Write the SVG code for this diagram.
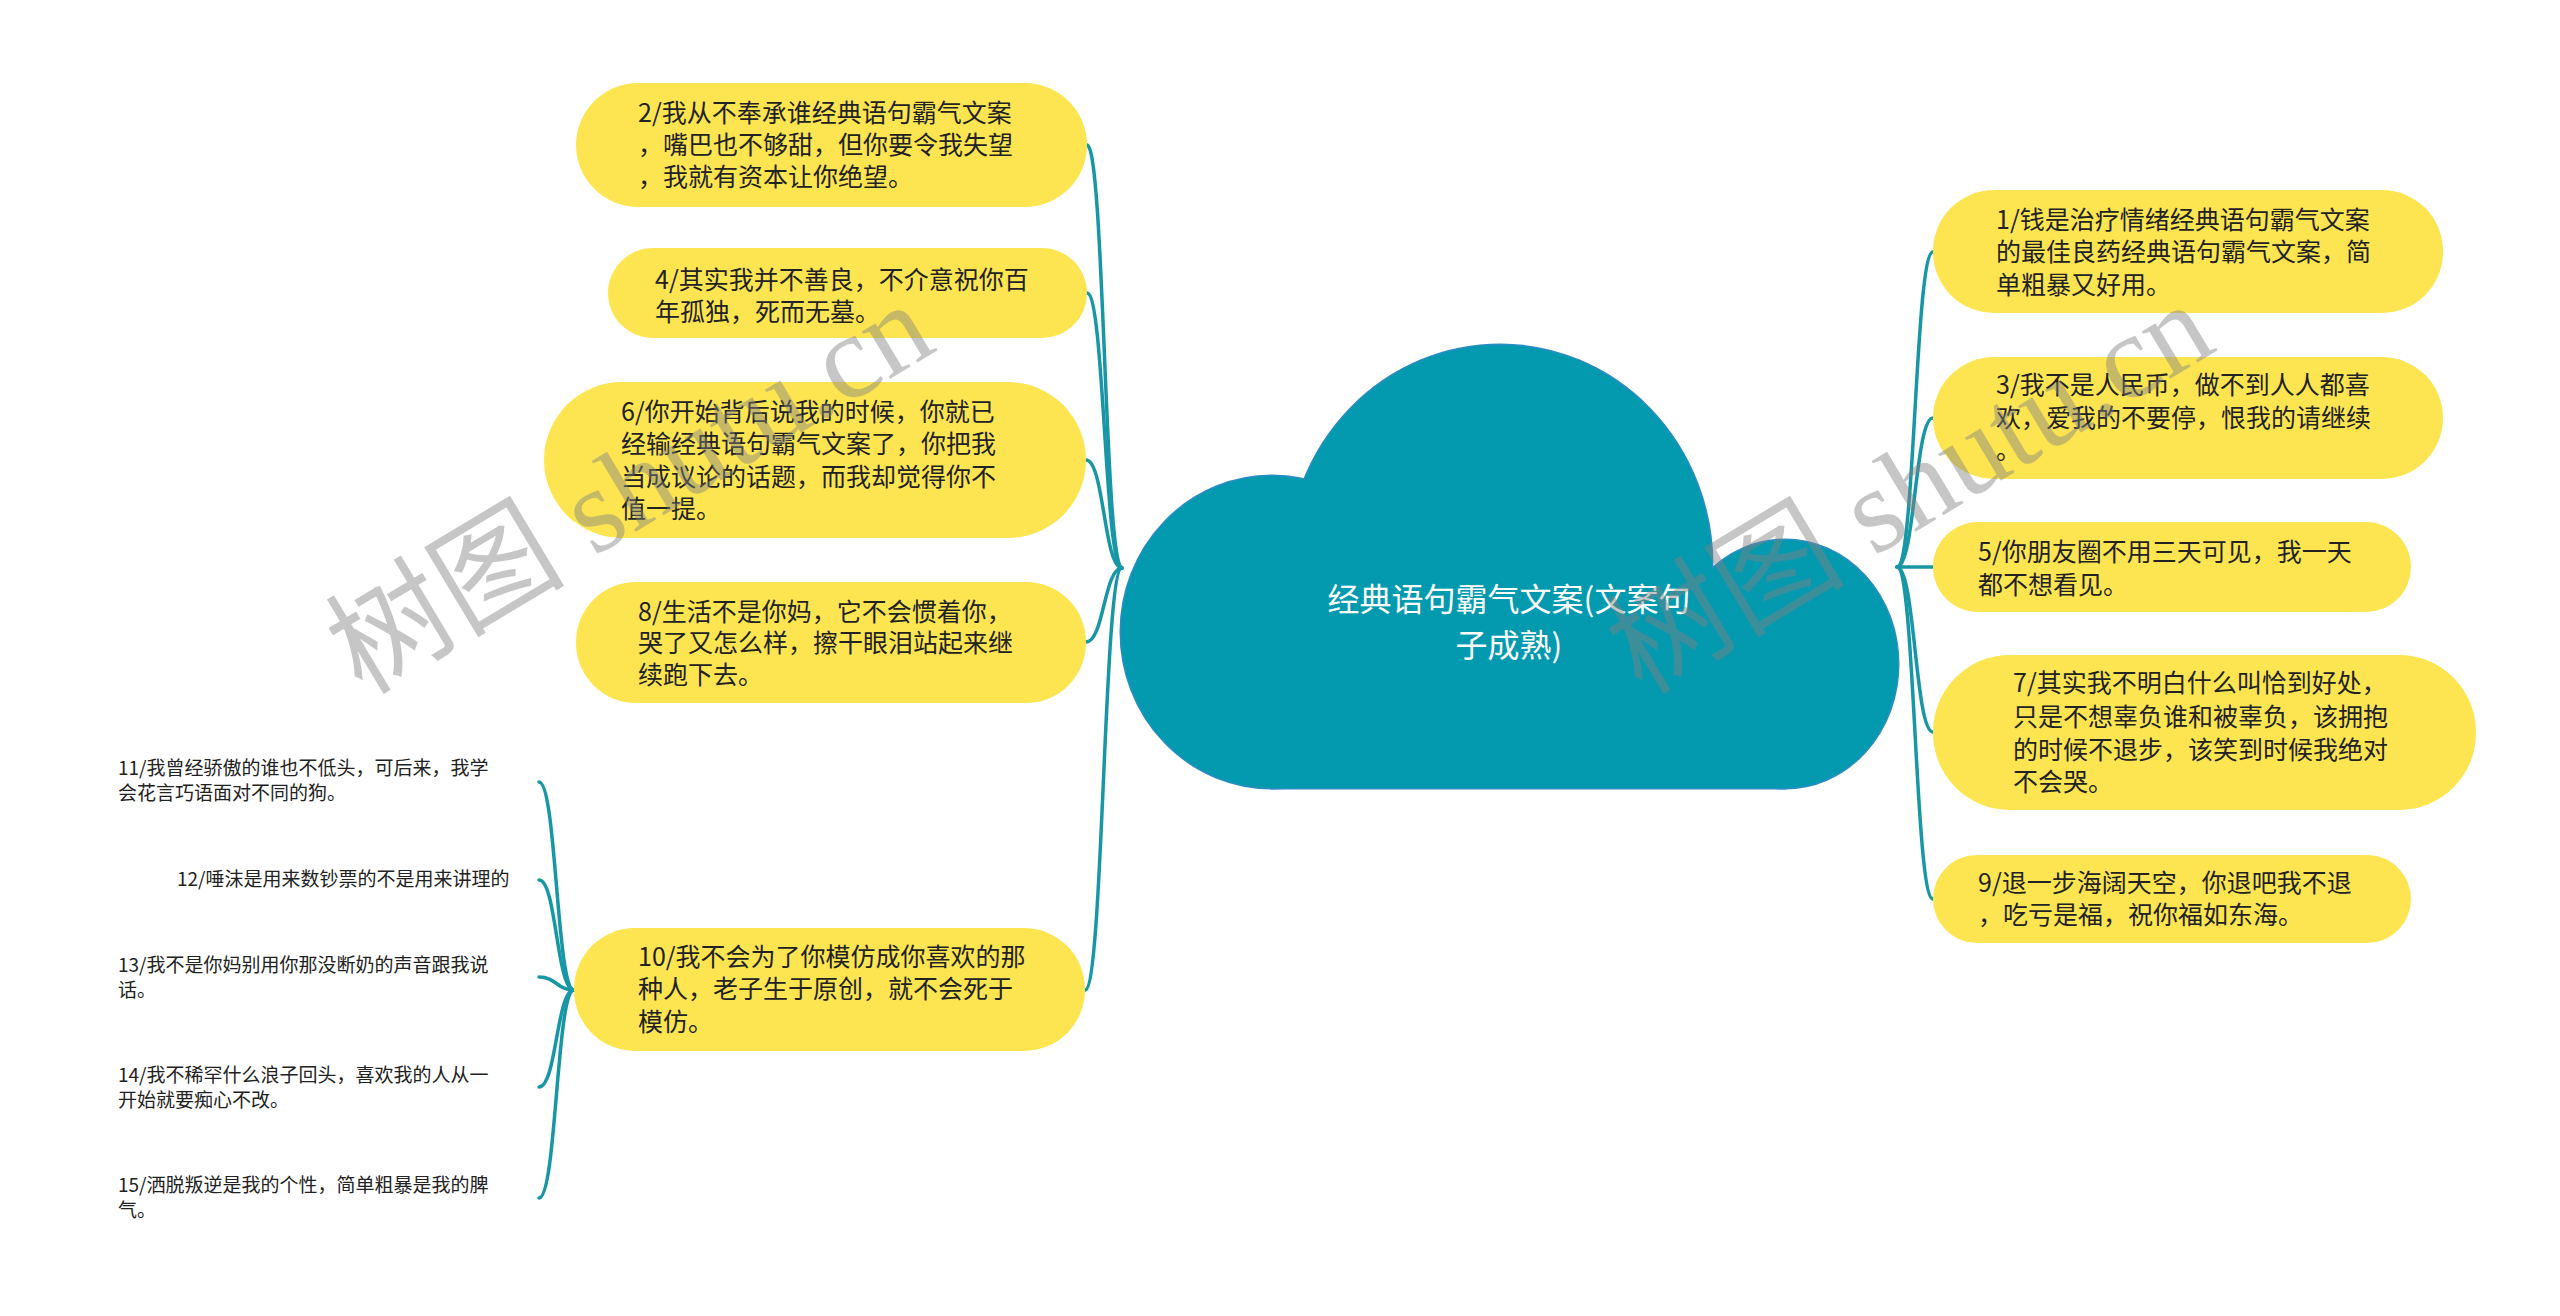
<svg xmlns="http://www.w3.org/2000/svg" width="2560" height="1316" viewBox="0 0 2560 1316">
<style>
.bub{fill:#fde552;}
.t{font-family:"Noto Sans CJK SC","Liberation Sans",sans-serif;font-size:25px;fill:#222;}
.s{font-family:"Noto Sans CJK SC","Liberation Sans",sans-serif;font-size:19px;fill:#222;}
.title{font-family:"Noto Sans CJK SC","Liberation Sans",sans-serif;font-size:32px;fill:#ffffff;text-anchor:middle;}
.c{fill:none;stroke:#1797a6;stroke-width:3.5;stroke-linecap:round;}
.cloudS{fill:#2b8cc4;stroke:#2b8cc4;stroke-width:3;}
.cloudF{fill:#039aaf;}
.wm{font-family:"Liberation Serif","Noto Sans CJK SC",serif;font-size:120px;fill:#808080;fill-opacity:0.45;}
</style>
<rect width="2560" height="1316" fill="#ffffff"/>

<g id="connectors">
<path class="c" d="M1087,145 C1104.5,145 1104.5,568 1122,568"/>
<path class="c" d="M1087,293 C1104.5,293 1104.5,568 1122,568"/>
<path class="c" d="M1086,460 C1104,460 1104,568 1122,568"/>
<path class="c" d="M1086,642 C1104,642 1104,568 1122,568"/>
<path class="c" d="M1085,990 C1103.5,990 1103.5,568 1122,568"/>
<path class="c" d="M1897,567 C1915,567 1915,252 1933,252"/>
<path class="c" d="M1897,567 C1915,567 1915,418 1933,418"/>
<path class="c" d="M1897,567 L1933,567"/>
<path class="c" d="M1897,567 C1915,567 1915,732 1933,732"/>
<path class="c" d="M1897,567 C1915,567 1915,899 1933,899"/>
<path class="c" d="M539,782 C556.5,782 556.5,990 574,990"/>
<path class="c" d="M539,880 C556.5,880 556.5,990 574,990"/>
<path class="c" d="M539,977 C556.5,977 556.5,990 574,990"/>
<path class="c" d="M539,1087 C556.5,1087 556.5,990 574,990"/>
<path class="c" d="M539,1198 C556.5,1198 556.5,990 574,990"/>
</g>

<g id="root">
<ellipse class="cloudS" cx="1272" cy="632" rx="151" ry="156"/>
<ellipse class="cloudS" cx="1500" cy="565" rx="212" ry="220"/>
<ellipse class="cloudS" cx="1785" cy="664" rx="113" ry="124"/>
<rect class="cloudS" x="1272" y="620" width="513" height="168"/>
<ellipse class="cloudF" cx="1272" cy="632" rx="151" ry="156"/>
<ellipse class="cloudF" cx="1500" cy="565" rx="212" ry="220"/>
<ellipse class="cloudF" cx="1785" cy="664" rx="113" ry="124"/>
<rect class="cloudF" x="1272" y="620" width="513" height="168"/>
<text class="title" x="1509" y="611">经典语句霸气文案(文案句</text>
<text class="title" x="1509" y="657">子成熟)</text>
</g>

<g id="n2">
<rect class="bub" x="576" y="83" width="511" height="124" rx="62"/>
<text class="t" x="638" y="122">2/我从不奉承谁经典语句霸气文案</text>
<text class="t" x="638" y="154">，嘴巴也不够甜，但你要令我失望</text>
<text class="t" x="638" y="186">，我就有资本让你绝望。</text>
</g>
<g id="n4">
<rect class="bub" x="608" y="248" width="479" height="90" rx="45"/>
<text class="t" x="655" y="289">4/其实我并不善良，不介意祝你百</text>
<text class="t" x="655" y="321">年孤独，死而无墓。</text>
</g>
<g id="n6">
<rect class="bub" x="544" y="382" width="542" height="156" rx="78"/>
<text class="t" x="621" y="421">6/你开始背后说我的时候，你就已</text>
<text class="t" x="621" y="453">经输经典语句霸气文案了，你把我</text>
<text class="t" x="621" y="486">当成议论的话题，而我却觉得你不</text>
<text class="t" x="621" y="518">值一提。</text>
</g>
<g id="n8">
<rect class="bub" x="576" y="582" width="510" height="121" rx="60"/>
<text class="t" x="638" y="621">8/生活不是你妈，它不会惯着你，</text>
<text class="t" x="638" y="652">哭了又怎么样，擦干眼泪站起来继</text>
<text class="t" x="638" y="684">续跑下去。</text>
</g>
<g id="n10">
<rect class="bub" x="574" y="928" width="511" height="123" rx="61"/>
<text class="t" x="638" y="966">10/我不会为了你模仿成你喜欢的那</text>
<text class="t" x="638" y="998">种人，老子生于原创，就不会死于</text>
<text class="t" x="638" y="1031">模仿。</text>
</g>
<g id="n1">
<rect class="bub" x="1933" y="190" width="510" height="123" rx="61"/>
<text class="t" x="1996" y="229">1/钱是治疗情绪经典语句霸气文案</text>
<text class="t" x="1996" y="261">的最佳良药经典语句霸气文案，简</text>
<text class="t" x="1996" y="294">单粗暴又好用。</text>
</g>
<g id="n3">
<rect class="bub" x="1933" y="357" width="510" height="122" rx="61"/>
<text class="t" x="1996" y="394">3/我不是人民币，做不到人人都喜</text>
<text class="t" x="1996" y="427">欢，爱我的不要停，恨我的请继续</text>
<text class="t" x="1996" y="459">。</text>
</g>
<g id="n5">
<rect class="bub" x="1933" y="522" width="478" height="90" rx="45"/>
<text class="t" x="1978" y="561">5/你朋友圈不用三天可见，我一天</text>
<text class="t" x="1978" y="594">都不想看见。</text>
</g>
<g id="n7">
<rect class="bub" x="1933" y="655" width="543" height="155" rx="77"/>
<text class="t" x="2013" y="692">7/其实我不明白什么叫恰到好处，</text>
<text class="t" x="2013" y="726">只是不想辜负谁和被辜负，该拥抱</text>
<text class="t" x="2013" y="759">的时候不退步，该笑到时候我绝对</text>
<text class="t" x="2013" y="791">不会哭。</text>
</g>
<g id="n9">
<rect class="bub" x="1933" y="855" width="478" height="88" rx="44"/>
<text class="t" x="1978" y="892">9/退一步海阔天空，你退吧我不退</text>
<text class="t" x="1978" y="924">，吃亏是福，祝你福如东海。</text>
</g>

<g id="n11">
<text class="s" x="118" y="775">11/我曾经骄傲的谁也不低头，可后来，我学</text>
<text class="s" x="118" y="800">会花言巧语面对不同的狗。</text>
</g>
<g id="n12">
<text class="s" x="177" y="886">12/唾沫是用来数钞票的不是用来讲理的</text>
</g>
<g id="n13">
<text class="s" x="118" y="972">13/我不是你妈别用你那没断奶的声音跟我说</text>
<text class="s" x="118" y="997">话。</text>
</g>
<g id="n14">
<text class="s" x="118" y="1082">14/我不稀罕什么浪子回头，喜欢我的人从一</text>
<text class="s" x="118" y="1107">开始就要痴心不改。</text>
</g>
<g id="n15">
<text class="s" x="118" y="1192">15/洒脱叛逆是我的个性，简单粗暴是我的脾</text>
<text class="s" x="118" y="1217">气。</text>
</g>

<g id="watermarks">
<text class="wm" x="362" y="696" transform="rotate(-31 362 696)">树图 shutu.cn</text>
<text class="wm" x="1642" y="696" transform="rotate(-31 1642 696)">树图 shutu.cn</text>
</g>
</svg>
